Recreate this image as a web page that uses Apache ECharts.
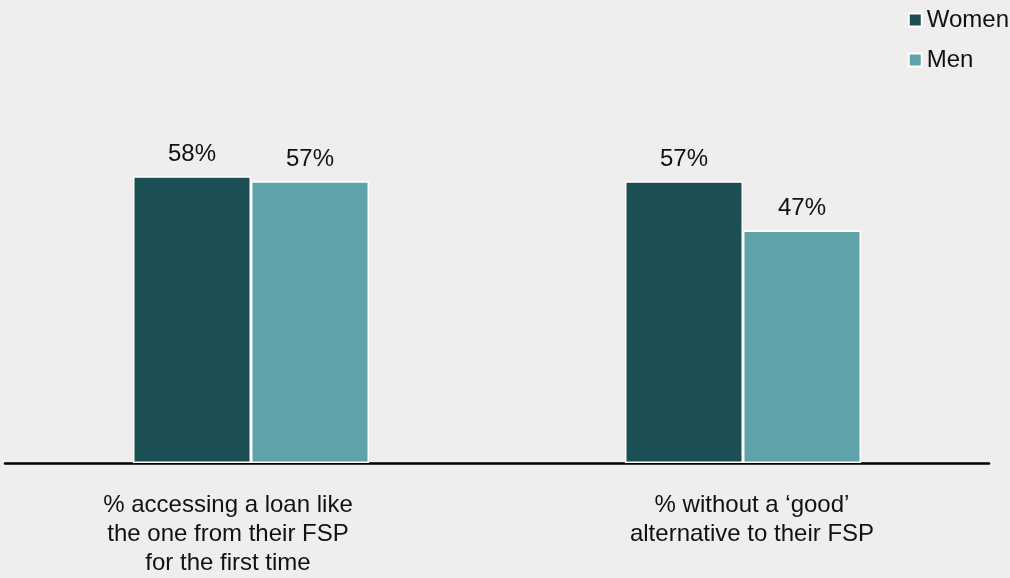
<!DOCTYPE html>
<html><head><meta charset="utf-8">
<script src="https://cdn.jsdelivr.net/npm/echarts@6/dist/echarts.min.js"></script>
<style>html,body{margin:0;padding:0;background:#f0eeec;overflow:hidden;}#c{width:1010px;height:578px;}</style>
</head><body><div id="c"></div>
<script>
const categories = ['% accessing a loan like\nthe one from their FSP\nfor the first time', '% without a \u2018good\u2019\nalternative to their FSP'];
const women = [58, 57];
const men = [57, 47];
const seriesNames = ['Women', 'Men'];

const chart = echarts.init(document.getElementById('c'), null, {renderer: 'canvas'});
const font = 'Liberation Sans, Arial, sans-serif';
const labelCfg = {show: true, position: 'top', distance: 10, formatter: '{c}%', fontSize: 24, color: '#111', fontFamily: font};
const labelPads = [[0, 46, 0, 0], [0, 0, 0, 18]];
chart.setOption({
  backgroundColor: '#f0eeec',
  animation: false,
  legend: {
    orient: 'vertical', right: 1, top: 8, itemGap: 16, padding: 0,
    itemWidth: 13, itemHeight: 13, icon: 'rect',
    textStyle: {fontSize: 24, color: '#111', fontFamily: font},
    data: seriesNames
  },
  grid: {left: 5, width: 984, top: 18, height: 450, containLabel: false},
  xAxis: {
    type: 'category',
    data: categories.map((c, i) => ({value: c, textStyle: {padding: labelPads[i]}})),
    axisLine: {lineStyle: {color: '#000', width: 2.5}},
    axisTick: {show: false},
    axisLabel: {fontSize: 24, color: '#111', fontFamily: font, lineHeight: 29, margin: 28, interval: 0}
  },
  yAxis: {type: 'value', min: 0, max: 90, show: false, splitLine: {show: false}},
  series: [
    {name: seriesNames[0], type: 'bar', data: women, barWidth: 118, barGap: '0%',
     itemStyle: {color: '#1c4f54', borderColor: '#ffffff', borderWidth: 1.5}, label: labelCfg},
    {name: seriesNames[1], type: 'bar', data: men, barWidth: 118, barGap: '0%',
     itemStyle: {color: '#5fa3aa', borderColor: '#ffffff', borderWidth: 1.5}, label: labelCfg}
  ]
});
</script></body></html>
